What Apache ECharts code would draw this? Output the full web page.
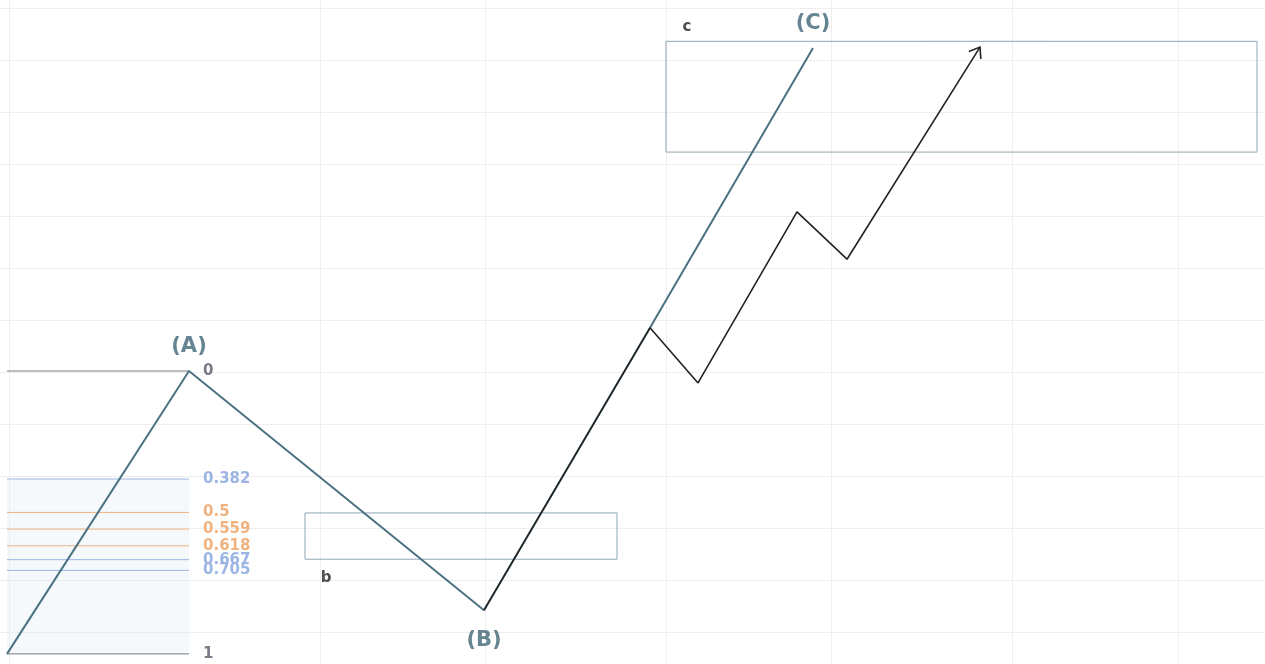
<!DOCTYPE html>
<html>
<head>
<meta charset="utf-8">
<script src="https://cdn.jsdelivr.net/npm/echarts@6/dist/echarts.min.js"></script>
<style>
  html, body { margin: 0; padding: 0; background: #fff; }
  #main { width: 1265px; height: 664px; }
</style>
</head>
<body>
<div id="main"></div>
<script>
// wave pivots [bar, price]
var waveABC = [[1.4, -4.2], [37.8, 50.2], [96.8, 4.2], [130, 58.5], [162.6, 112.3]];
var waveSub = [[96.8, 4.2], [130, 58.5], [139.6, 47.9], [159.4, 80.8], [169.4, 71.7], [196, 112.5]];
var waveNames = ['(A)', '(B)', '(C)'];
var wavePoints = [[37.8, 50.2], [96.8, 4.2], [162.6, 112.3]];

// fib retracement of start -> (A)
var fibRatios = [0, 0.382, 0.5, 0.559, 0.618, 0.667, 0.705, 1];
var fibLabels = ['0', '0.382', '0.5', '0.559', '0.618', '0.667', '0.705', '1'];
var fibColors = ['#787b86', '#9cb5e3', '#f0b27e', '#f0b27e', '#f0b27e', '#9cb5e3', '#9cb5e3', '#787b86'];
var fibFrom = [1.4, -4.2];
var fibTo = [37.8, 50.2];

// target boxes [x1, y1, x2, y2]
var boxB = [61, 22.9, 123.4, 14.0];
var boxC = [133.2, 113.6, 251.4, 92.3];

// grid lines: time and price
var gridX = [1.8, 64, 97, 133.2, 166.2, 202.4, 235.6];
var gridY = [0, 10, 20, 30, 40, 50, 60, 70, 80, 90, 100, 110, 120];

var chart = echarts.init(document.getElementById('main'));

function fibPrice(r) {
  return fibTo[1] - r * (fibTo[1] - fibFrom[1]);
}

// one small line series per fib level
var fibSeries = fibRatios.map(function (r, i) {
  var y = fibPrice(r);
  return {
    type: 'line',
    z: 2,
    silent: true,
    symbol: 'none',
    data: [[fibFrom[0], y], [fibTo[0], y]],
    lineStyle: { color: fibColors[i], width: 1 },
    endLabel: {
      show: true,
      distance: 14,
      formatter: fibLabels[i],
      color: fibColors[i],
      fontSize: 15,
      fontWeight: 'bold',
      fontFamily: 'DejaVu Sans'
    }
  };
});

var labelData = wavePoints.map(function (p, i) {
  var up = i !== 1;
  return {
    value: p,
    label: { show: true, formatter: waveNames[i], position: up ? 'top' : 'bottom', distance: up ? 14 : 20, color: '#3f6677', fontSize: 21, fontWeight: 'bold', fontFamily: 'DejaVu Sans' }
  };
});
labelData.push({
  value: [boxB[0], boxB[3]],
  label: { show: true, formatter: 'b', position: 'bottom', offset: [21, 6], color: '#222', fontSize: 15, fontWeight: 'bold', fontFamily: 'DejaVu Sans' }
});
labelData.push({
  value: [boxC[0], boxC[1]],
  label: { show: true, formatter: 'c', position: 'top', offset: [21, -2], color: '#222', fontSize: 15, fontWeight: 'bold', fontFamily: 'DejaVu Sans' }
});

var option = {
  animation: false,
  backgroundColor: '#ffffff',
  grid: { left: 0, right: 0, top: 0, bottom: 0 },
  xAxis: {
    type: 'value',
    min: 0,
    max: 253,
    axisLine: { show: false },
    axisTick: { show: false },
    axisLabel: { show: false },
    splitLine: { show: false }
  },
  yAxis: {
    type: 'value',
    min: -6.15,
    max: 121.55,
    axisLine: { show: false },
    axisTick: { show: false },
    axisLabel: { show: false },
    splitLine: { show: false }
  },
  series: [
    {
      // grid lines
      type: 'line',
      data: [],
      silent: true,
      markLine: {
        z: 0,
        silent: true,
        symbol: 'none',
        label: { show: false },
        lineStyle: { color: '#efefef', width: 1, type: 'solid' },
        data: gridX.map(function (v) { return { xAxis: v }; })
          .concat(gridY.map(function (v) { return { yAxis: v }; }))
      }
    },
    {
      // fib shading and boxes
      type: 'line',
      data: [],
      silent: true,
      markArea: {
        z: 1,
        silent: true,
        data: [
          [{ coord: [fibFrom[0], fibPrice(0.382)], itemStyle: { color: 'rgba(215,230,245,0.25)', borderWidth: 0 } },
           { coord: [fibTo[0], fibPrice(1)] }],
          [{ coord: [boxB[0], boxB[1]], itemStyle: { color: 'rgba(0,0,0,0)', borderColor: '#8fa7b2', borderWidth: 1 } },
           { coord: [boxB[2], boxB[3]] }],
          [{ coord: [boxC[0], boxC[1]], itemStyle: { color: 'rgba(0,0,0,0)', borderColor: '#8fa7b2', borderWidth: 1 } },
           { coord: [boxC[2], boxC[3]] }]
        ]
      }
    }
  ].concat(fibSeries).concat([
    {
      type: 'line',
      data: waveABC,
      z: 3,
      symbol: 'none',
      lineStyle: { color: '#4b7283', width: 2 }
    },
    {
      type: 'line',
      data: waveSub,
      z: 4,
      symbol: 'none',
      lineStyle: { color: '#222222', width: 1.6 }
    },
    {
      // arrow head at end of sub-wave
      type: 'custom',
      z: 4,
      data: [[waveSub[5][0], waveSub[5][1], waveSub[4][0], waveSub[4][1]]],
      renderItem: function (params, api) {
        var tip = api.coord([api.value(0), api.value(1)]);
        var prev = api.coord([api.value(2), api.value(3)]);
        var ang = Math.atan2(tip[1] - prev[1], tip[0] - prev[0]);
        var len = 12, spread = Math.PI / 5;
        var p1 = [tip[0] - len * Math.cos(ang - spread), tip[1] - len * Math.sin(ang - spread)];
        var p2 = [tip[0] - len * Math.cos(ang + spread), tip[1] - len * Math.sin(ang + spread)];
        return {
          type: 'polyline',
          shape: { points: [p1, tip, p2] },
          style: { stroke: '#222222', lineWidth: 1.6, fill: null }
        };
      }
    },
    {
      type: 'scatter',
      z: 5,
      symbolSize: 0,
      data: labelData
    }
  ])
};

chart.setOption(option);
</script>
</body>
</html>
